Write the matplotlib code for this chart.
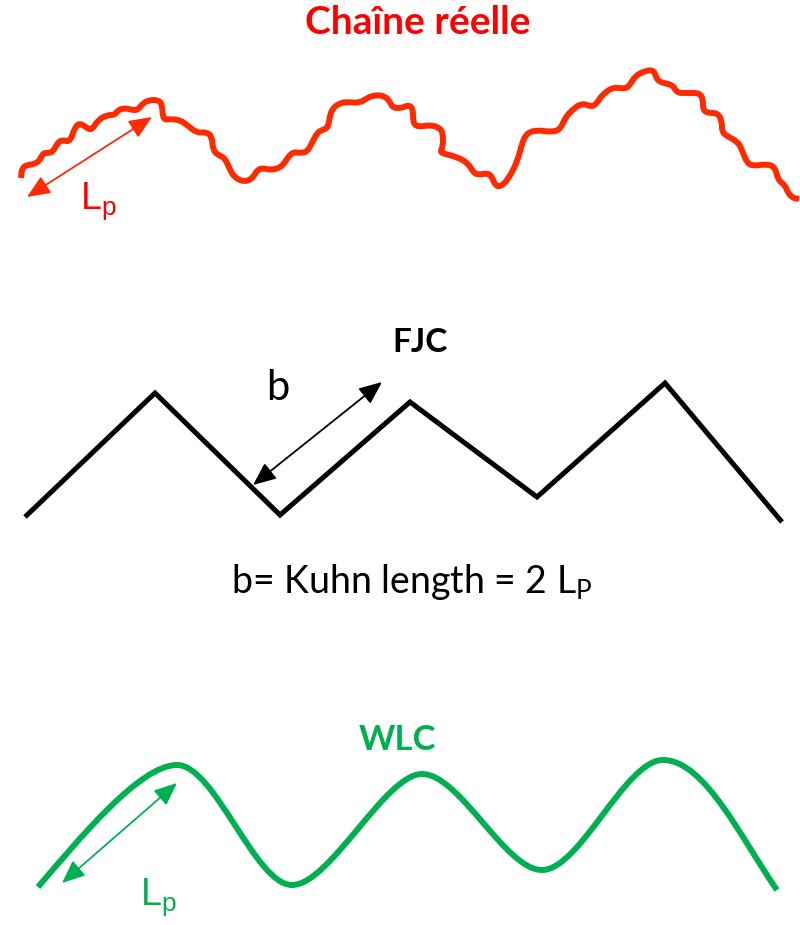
import numpy as np
import matplotlib.pyplot as plt
from matplotlib.path import Path
from matplotlib.patches import FancyArrowPatch, PathPatch

# chaîne réelle (en pixels)
red_x = [21, 22, 27, 35, 40, 43, 48, 53, 58, 63, 70, 75, 80, 87, 92, 98, 107, 115, 118, 125,
         132, 138, 143, 150, 157, 162, 163, 170, 180, 187, 197, 207, 212, 213, 218, 225, 230, 235,
         245, 253, 257, 263, 270, 280, 285, 292, 300, 307, 312, 317, 322, 328, 330, 333, 340, 348,
         360, 367, 375, 385, 390, 393, 402, 408, 413, 413, 418, 430, 438, 443, 443, 440, 445, 457,
         468, 473, 478, 488, 492, 495, 500, 508, 518, 522, 527, 537, 550, 560, 565, 572, 582, 592,
         597, 602, 613, 625, 630, 635, 645, 652, 655, 657, 663, 673, 677, 687, 700, 703, 703, 708,
         718, 722, 722, 727, 738, 742, 747, 753, 767, 775, 778, 785, 788, 793, 799]
red_y = [178, 168, 165, 164, 160, 153, 153, 152, 142, 140, 142, 127, 123, 128, 130, 120, 115, 115, 110, 108,
         110, 110, 103, 100, 100, 103, 120, 119, 120, 125, 133, 132, 137, 150, 155, 158, 170, 178,
         182, 178, 170, 168, 170, 168, 162, 152, 153, 152, 143, 133, 130, 128, 115, 108, 103, 102,
         103, 98, 95, 96, 102, 108, 108, 105, 108, 123, 127, 125, 127, 132, 147, 152, 154, 157,
         163, 172, 175, 173, 177, 185, 187, 180, 160, 143, 133, 130, 132, 130, 118, 110, 103, 107,
         103, 95, 87, 89, 85, 76, 71, 70, 73, 80, 83, 85, 93, 93, 93, 100, 110, 113,
         113, 122, 132, 136, 142, 150, 163, 166, 164, 167, 180, 185, 193, 198, 199]

# FJC
fjc_x = [25, 155, 280, 410, 537, 665, 782]
fjc_y = [517, 393, 515, 402, 497, 383, 522]

# WLC : sommets / creux et poignées de Bézier (départ, ctrl1, ctrl2, arrivée...)
wlc_x = [38, 80, 140, 177, 215, 255, 292, 330, 385, 422, 460, 505, 542, 580, 625, 663, 705, 742, 777]
wlc_y = [887, 838, 765, 765, 765, 885, 885, 885, 774, 774, 774, 870, 870, 870, 760, 760, 760, 840, 890]

# flèches (début, fin)
red_arrow = [(27, 197), (152, 117)]
fjc_arrow = [(253, 485), (382, 382)]
wlc_arrow = [(62, 883), (177, 783)]

red_line = "#ff2a00"
red_txt = "#ff0000"
green = "#00b050"

fig = plt.figure(figsize=(8, 9.25), dpi=100)
ax = fig.add_axes([0, 0, 1, 1])
ax.set_xlim(0, 800)
ax.set_ylim(925, 0)
ax.axis("off")

# courbe rouge lissée : chaîne de Bézier quadratiques (points lus = points de contrôle)
pts = np.column_stack([red_x, red_y]).astype(float)
mids = (pts[:-1] + pts[1:]) / 2
verts = [pts[0], mids[0]]
codes = [Path.MOVETO, Path.LINETO]
for i in range(1, len(pts) - 1):
    verts += [pts[i], mids[i]]
    codes += [Path.CURVE3, Path.CURVE3]
verts.append(pts[-1])
codes.append(Path.LINETO)
ax.add_patch(PathPatch(Path(verts, codes), fill=False, edgecolor=red_line, lw=4.3,
                       capstyle="butt", joinstyle="round"))

ax.plot(fjc_x, fjc_y, color="black", lw=3.6, solid_capstyle="butt", solid_joinstyle="miter")

wverts = list(zip(wlc_x, wlc_y))
wcodes = [Path.MOVETO] + [Path.CURVE4] * (len(wverts) - 1)
ax.add_patch(PathPatch(Path(wverts, wcodes), fill=False, edgecolor=green, lw=4.3,
                       capstyle="butt"))

for (p0, p1), c in [(red_arrow, red_line), (fjc_arrow, "black"), (wlc_arrow, green)]:
    ax.add_patch(FancyArrowPatch(p0, p1, arrowstyle="<|-|>,head_length=14,head_width=6",
                                 color=c, lw=1.3, mutation_scale=1, shrinkA=0, shrinkB=0))

ax.text(418, 23, "Chaîne réelle", color=red_txt, fontsize=28, fontweight="bold",
        family="Lato", ha="center", va="center")
ax.text(80, 209, "L$_\\mathregular{p}$", color=red_txt, fontsize=27, family="Liberation Sans",
        ha="left", va="baseline")
ax.text(420, 343, "FJC", color="black", fontsize=24, fontweight="bold", family="Lato",
        ha="center", va="center")
ax.text(278, 388, "b", color="black", fontsize=30, family="Lato", ha="center", va="center")
ax.text(412, 593, "b= Kuhn length = 2 L$_\\mathregular{P}$", color="black", fontsize=27,
        family="Lato", ha="center", va="baseline")
ax.text(397, 740, "WLC", color=green, fontsize=25, fontweight="bold", family="Lato",
        ha="center", va="center")
ax.text(140, 905, "L$_\\mathregular{p}$", color=green, fontsize=27, family="Liberation Sans",
        ha="left", va="baseline")

fig.savefig("out.png", dpi=100)
